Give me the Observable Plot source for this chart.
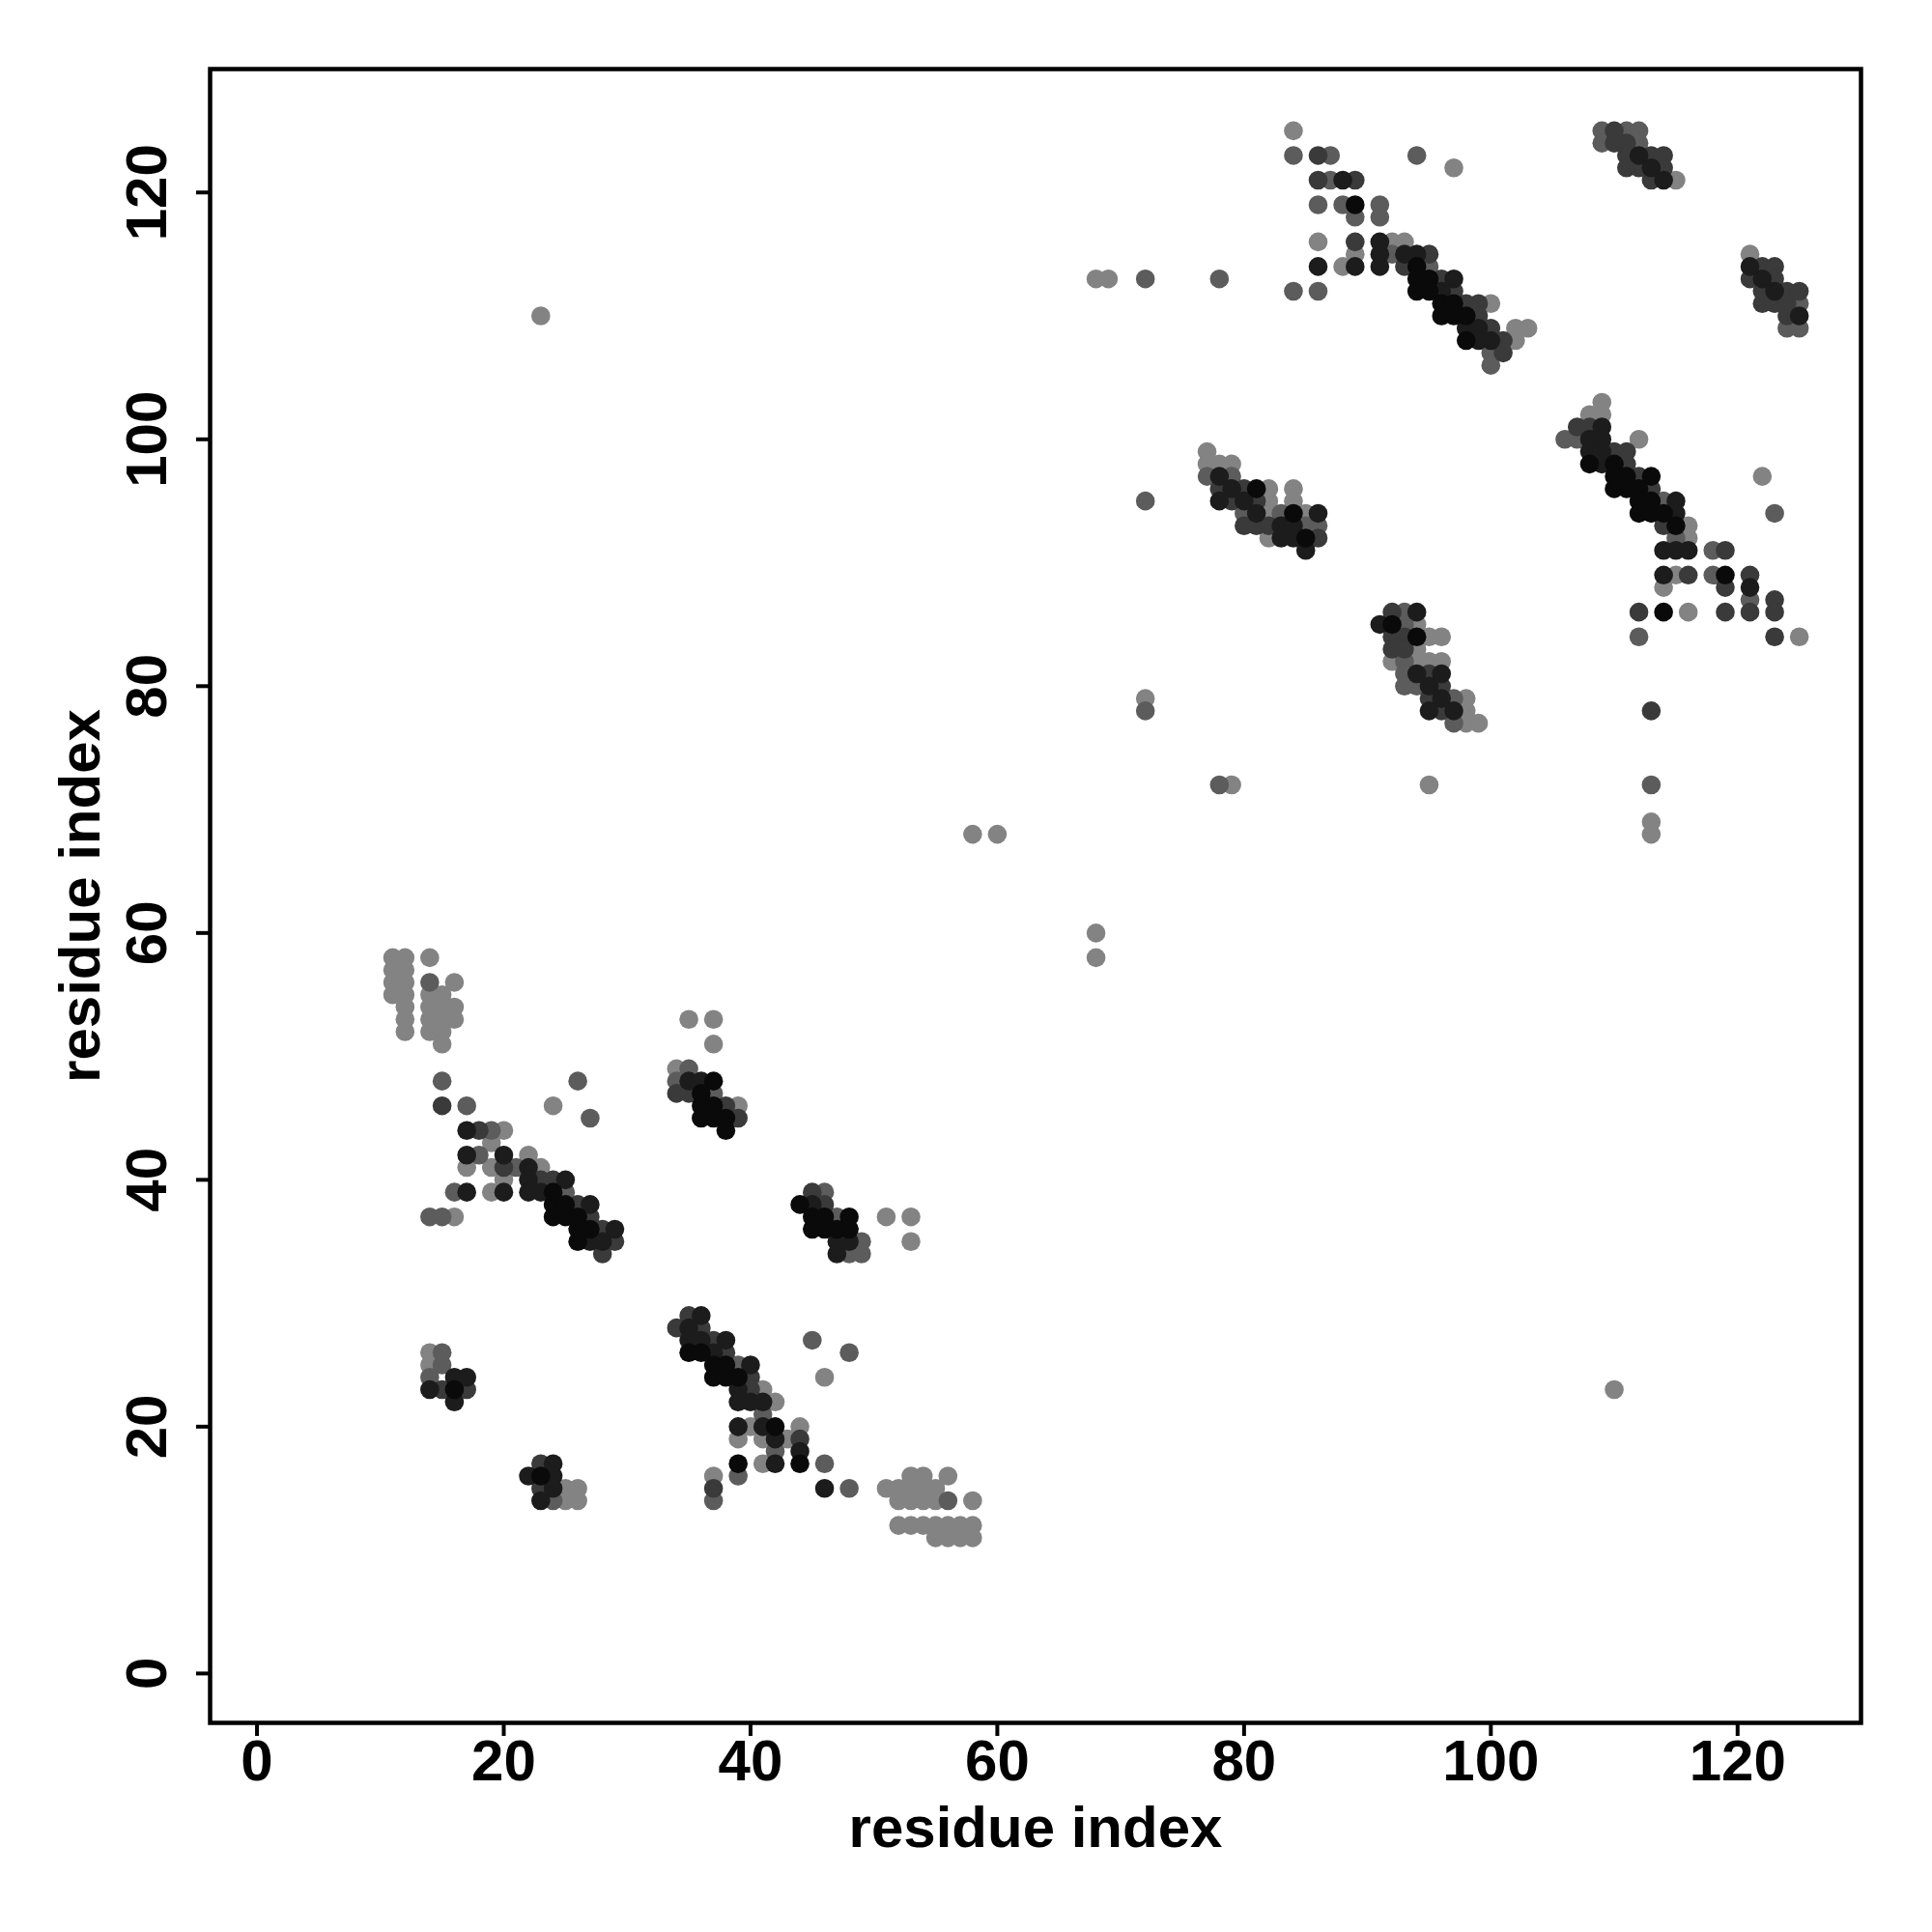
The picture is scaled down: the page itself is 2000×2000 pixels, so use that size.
<!DOCTYPE html>
<html>
<head>
<meta charset="utf-8">
<script src="https://cdn.jsdelivr.net/npm/d3@7"></script>
<script src="https://cdn.jsdelivr.net/npm/@observablehq/plot@0.6"></script>
<style>
  html, body { margin: 0; padding: 0; background: #fff; }
  #chart svg { display: block; }
</style>
</head>
<body>
<div id="chart"></div>
<script>
// Contact map: residue pairs [i, j] grouped by contact strength (1 = weakest ... 5 = strongest)
const strength1 = [
  [11,58],[11,57],[11,56],[11,55],[12,58],[12,57],[12,56],[12,55],[12,54],[12,53],[12,52],
  [14,58],[14,55],[14,54],[14,53],[14,52],[15,55],[15,54],[15,53],[15,52],[15,51],[16,56],[16,54],[16,53],
  [24,46],[20,44],[19,43],[22,42],[17,41],[19,41],[23,41],[20,40],[19,39],[16,37],
  [14,26],[14,25],[25,15],[25,14],[26,15],[26,14],
  [41,23],[42,22],[40,20],[44,20],[39,19],[41,19],[43,19],[41,17],[37,16],[46,24],
  [53,16],[54,16],[56,16],[51,15],[52,15],[53,15],[54,15],[55,15],[52,14],[53,14],[54,14],[55,14],[58,14],
  [52,12],[53,12],[54,12],[55,12],[56,12],[57,12],[58,12],[55,11],[56,11],[57,11],[58,11],
  [35,53],[37,53],[37,51],[34,49],[39,46],[51,37],[53,37],[53,35],
  [23,110],[110,23],[58,68],[60,68],[68,60],[68,58],[68,113],[69,113],[72,79],[79,72],[95,72],[113,69],[113,68],
  [77,99],[77,98],[78,98],[79,98],[82,96],[84,96],[82,95],[84,95],[82,94],[85,94],[82,92],
  [84,125],[97,122],[86,116],[92,116],[93,116],[89,115],[88,114],[100,111],[102,109],[103,109],[102,108],
  [94,85],[95,84],[96,84],[94,83],[92,82],[94,82],[95,82],[96,82],[98,79],[98,78],[98,77],[99,77],
  [109,103],[108,102],[109,102],[112,100],[116,93],[116,92],[115,89],[114,88],[116,86],[125,84],[122,97],
  [115,121],[121,115]
];
const strength2 = [
  [14,56],[15,48],[17,46],[26,48],[27,45],[19,44],[18,42],[21,41],[25,39],[16,39],[14,37],[15,37],
  [14,24],[15,26],[15,25],[24,14],
  [39,25],[41,21],[42,18],[46,17],[39,16],[48,15],[37,14],[45,27],[48,26],
  [56,14],
  [35,49],[34,48],[37,47],[46,39],[47,37],[49,35],[48,34],[49,34],
  [72,113],[78,113],[72,95],[72,78],[78,72],
  [77,97],[79,97],[80,94],[83,94],[85,93],[86,93],
  [84,123],[87,123],[94,123],[87,121],[86,119],[88,119],[91,119],[89,118],[91,118],[92,115],[95,114],
  [84,112],[86,112],[100,107],[100,106],
  [93,86],[93,85],[93,82],[93,81],[93,80],[94,80],[97,79],[97,77],
  [106,100],[107,100],[114,95],[115,92],[118,91],[118,89],[121,87],[112,84],[123,94],[113,72],
  [109,125],[111,125],[112,125],[109,124],[112,124],[125,111],[124,109],[125,109]
];
const strength3 = [
  [15,46],[18,44],[20,41],[23,40],[24,40],[26,38],[27,37],[28,36],[29,35],[28,34],
  [15,23],[17,23],[23,17],[23,15],
  [35,29],[34,28],[36,28],[37,27],[38,26],[40,24],[40,23],[44,19],[37,15],
  [34,47],[35,47],[38,46],[39,45],
  [45,39],[46,38],
  [78,96],[80,96],[79,95],[81,95],[80,93],[81,93],[82,93],[86,92],
  [86,123],[86,121],[89,121],[89,116],[95,115],[93,114],[96,113],[97,112],[98,111],[99,111],[99,110],
  [100,109],[101,108],[101,107],
  [92,86],[92,84],[93,84],[92,83],[93,83],[95,81],[96,80],[95,79],[96,78],
  [107,101],[108,101],[110,99],[111,99],[111,98],[112,97],[113,96],[114,93],[119,91],[116,89],[121,89],
  [119,88],[123,87],[112,86],[119,86],[121,86],[123,86],[123,84],[113,78],
  [110,125],[110,124],[111,124],[111,123],[113,123],[114,123],[111,122],[112,122],[114,122],[113,121],
  [122,114],[123,114],[121,113],[123,113],[122,112],[124,112],[125,112],[122,111],[123,111],[124,111],[124,110]
];
const strength4 = [
  [17,44],[17,42],[20,42],[22,41],[22,40],[25,40],[17,39],[20,39],[22,39],[23,39],[27,38],[29,36],[27,35],[28,35],
  [14,23],[16,24],[17,24],[16,22],[22,16],[23,14],[24,17],[24,16],[24,15],
  [36,29],[35,28],[35,27],[36,27],[38,27],[37,26],[40,25],[39,23],[39,22],[40,22],[41,22],[39,20],[41,20],
  [42,19],[44,18],[42,17],[46,15],
  [35,48],[36,48],
  [45,38],[48,35],[47,35],[47,34],
  [78,97],[79,96],[78,95],[80,95],[81,94],[86,94],[83,93],[84,93],[83,92],[84,92],[85,91],
  [88,121],[91,116],[91,115],[93,115],[94,115],[86,114],[89,114],[91,114],[97,113],[96,112],[98,109],
  [99,109],[99,108],[100,108],
  [91,85],[94,86],[94,81],[96,81],[95,80],[96,79],[95,78],[97,78],
  [109,101],[108,100],[109,100],[108,99],[109,99],[109,98],[115,95],[115,94],[114,91],[115,91],[116,91],
  [114,89],[121,88],
  [112,123],[113,122],[114,121],[121,114],[122,113],[123,112],[125,110]
];
const strength5 = [
  [24,39],[24,38],[25,38],[24,37],[25,37],[26,37],[26,36],[27,36],[26,35],
  [16,23],[23,16],
  [35,26],[36,26],[37,25],[38,25],[37,24],[38,24],[39,24],[42,20],[39,17],[44,17],
  [37,48],[36,47],[36,46],[37,46],[36,45],[37,45],[38,45],[38,44],
  [44,38],[45,37],[46,37],[48,37],[45,36],[46,36],[47,36],[48,36],
  [81,96],[84,94],[85,92],
  [89,119],[94,114],[94,113],[95,113],[94,112],[95,112],[96,111],[97,111],[96,110],[97,110],[98,110],[98,108],
  [92,85],[94,84],
  [108,98],[110,98],[110,97],[111,97],[113,97],[110,96],[111,96],[112,96],[112,95],[113,95],[112,94],
  [113,94],[114,94],[115,93],[119,89],[114,86]
];
const strengthLevels = [1, 2, 3, 4, 5];
const strengthGrays = ["#838383", "#5c5c5c", "#3a3a3a", "#1c1c1c", "#0a0a0a"];
const xTicks = [0, 20, 40, 60, 80, 100, 120];
const yTicks = [0, 20, 40, 60, 80, 100, 120];
const xLabel = "residue index";
const yLabel = "residue index";

const groups = [strength1, strength2, strength3, strength4, strength5];
const contacts = groups.flatMap((g, k) => g.map(([i, j]) => ({i, j, level: strengthLevels[k]})));

const font = "'Liberation Sans', Arial, Helvetica, sans-serif";

const chart = Plot.plot({
  width: 2000,
  height: 2000,
  marginLeft: 217,
  marginRight: 74,
  marginTop: 71,
  marginBottom: 217,
  style: {fontFamily: font, fontWeight: "bold", background: "#fff", color: "#000"},
  x: {domain: [-3.8, 130]},
  y: {domain: [-4, 130]},
  color: {type: "ordinal", domain: strengthLevels, range: strengthGrays},
  marks: [
    Plot.dot(contacts, {x: "i", y: "j", r: 9.8, fill: "level", stroke: null}),
    Plot.axisX({ticks: xTicks, tickSize: 14, tickPadding: 3, fontSize: 60, fontWeight: "bold",
      fontFamily: font, strokeWidth: 4, label: null, tickFormat: d => String(d)}),
    Plot.axisY({ticks: yTicks, tickSize: 14, strokeWidth: 4, label: null, tickFormat: () => ""}),
    Plot.text(yTicks, {y: d => d, frameAnchor: "left", rotate: -90, lineAnchor: "bottom",
      textAnchor: "middle", dx: -46, text: d => String(d), fontSize: 60, fontWeight: "bold", fontFamily: font}),
    Plot.text([xLabel], {frameAnchor: "bottom", lineAnchor: "top", textAnchor: "middle", dy: 86, fontSize: 60,
      fontWeight: "bold", fontFamily: font}),
    Plot.text([yLabel], {frameAnchor: "left", rotate: -90, lineAnchor: "bottom", textAnchor: "middle", dx: -115,
      fontSize: 60, fontWeight: "bold", fontFamily: font}),
    Plot.frame({stroke: "#000", strokeWidth: 4.5})
  ]
});
document.getElementById("chart").appendChild(chart);
</script>
</body>
</html>
